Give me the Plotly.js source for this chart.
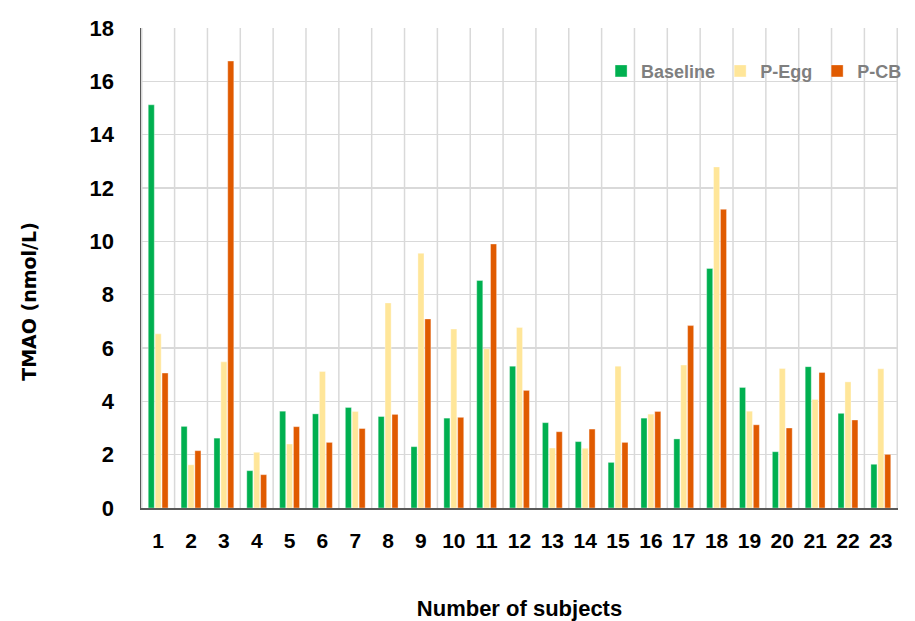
<!DOCTYPE html>
<html>
<head>
<meta charset="utf-8">
<script src="https://cdn.plot.ly/plotly-3.0.1.min.js"></script>
<style>html,body{margin:0;padding:0;background:#fff;}#chart{width:915px;height:621px;}</style>
</head>
<body>
<div id="chart"></div>
<script>
const subjects = ["1","2","3","4","5","6","7","8","9","10","11","12","13","14","15","16","17","18","19","20","21","22","23"];
const baseline = [15.12,3.06,2.62,1.40,3.63,3.53,3.77,3.43,2.30,3.37,8.53,5.32,3.20,2.49,1.71,3.37,2.59,8.98,4.52,2.11,5.30,3.55,1.64];
const pEgg     = [6.53,1.62,5.48,2.09,2.40,5.12,3.62,7.69,9.55,6.71,5.97,6.77,2.25,2.24,5.32,3.52,5.36,12.79,3.63,5.23,4.07,4.73,5.22];
const pCB      = [5.06,2.15,16.76,1.25,3.05,2.46,2.98,3.51,7.09,3.40,9.90,4.41,2.86,2.96,2.46,3.62,6.84,11.20,3.12,3.00,5.08,3.30,2.01];
const yTicks = [0,2,4,6,8,10,12,14,16,18];

const sans = '"DejaVu Sans", sans-serif';
const arial = '"Liberation Sans", Arial, sans-serif';

function bar(name, y, color) {
  return {type: 'bar', name: name, x: subjects, y: y,
    marker: {color: color, line: {color: 'rgba(255,255,255,0.6)', width: 0.6}},
    hoverinfo: 'x+y+name'};
}

const data = [
  bar('Baseline', baseline, '#00B050'),
  bar('P-Egg', pEgg, '#FFE699'),
  bar('P-CB', pCB, '#E05A00')
];

const layout = {
  width: 915, height: 621,
  margin: {l: 141, r: 8, t: 28, b: 113},
  paper_bgcolor: '#fff', plot_bgcolor: '#fff',
  barmode: 'group', bargap: 0.37, bargroupgap: 0.12,
  showlegend: true,
  legend: {orientation: 'h', x: 1.012, xanchor: 'right', y: 0.91, yanchor: 'middle',
    font: {family: arial, size: 18, color: '#7F7F7F', weight: 'bold'},
    bgcolor: 'rgba(0,0,0,0)', itemwidth: 30, tracegroupgap: 0},
  xaxis: {type: 'category', showgrid: false, showline: true, linecolor: '#595959', linewidth: 1.5,
    ticks: '', tickfont: {family: arial, size: 21, color: '#000', weight: 'bold'},
    ticklabelstandoff: 13,
    title: {text: 'Number of subjects', font: {family: arial, size: 22, color: '#000', weight: 'bold'}, standoff: 50},
    automargin: false},
  yaxis: {range: [0, 18], tickvals: yTicks, ticktext: yTicks.map(String),
    showgrid: true, gridcolor: '#D9D9D9', gridwidth: 1.5,
    showline: true, linecolor: '#595959', linewidth: 1.5, zeroline: false, ticks: '',
    tickfont: {family: arial, size: 22, color: '#000', weight: 'bold'},
    ticklabelstandoff: 21,
    automargin: false},
  annotations: [{text: 'TMAO (nmol/L)', textangle: -90, xref: 'paper', yref: 'paper',
    x: -0.149, xanchor: 'center', y: 0.43, yanchor: 'middle', showarrow: false,
    font: {family: sans, size: 19, color: '#000', weight: 'bold'}}],
  shapes: []
};

// vertical category gridlines drawn at category boundaries
const n = subjects.length;
for (let i = 0; i <= n; i++) {
  layout.shapes.push({type: 'line', xref: 'x', yref: 'paper', x0: i - 0.5, x1: i - 0.5, y0: 0, y1: 1,
    line: {color: '#D9D9D9', width: 1.5}, layer: 'below'});
}

Plotly.newPlot('chart', data, layout, {displayModeBar: false, staticPlot: true});
</script>
</body>
</html>
